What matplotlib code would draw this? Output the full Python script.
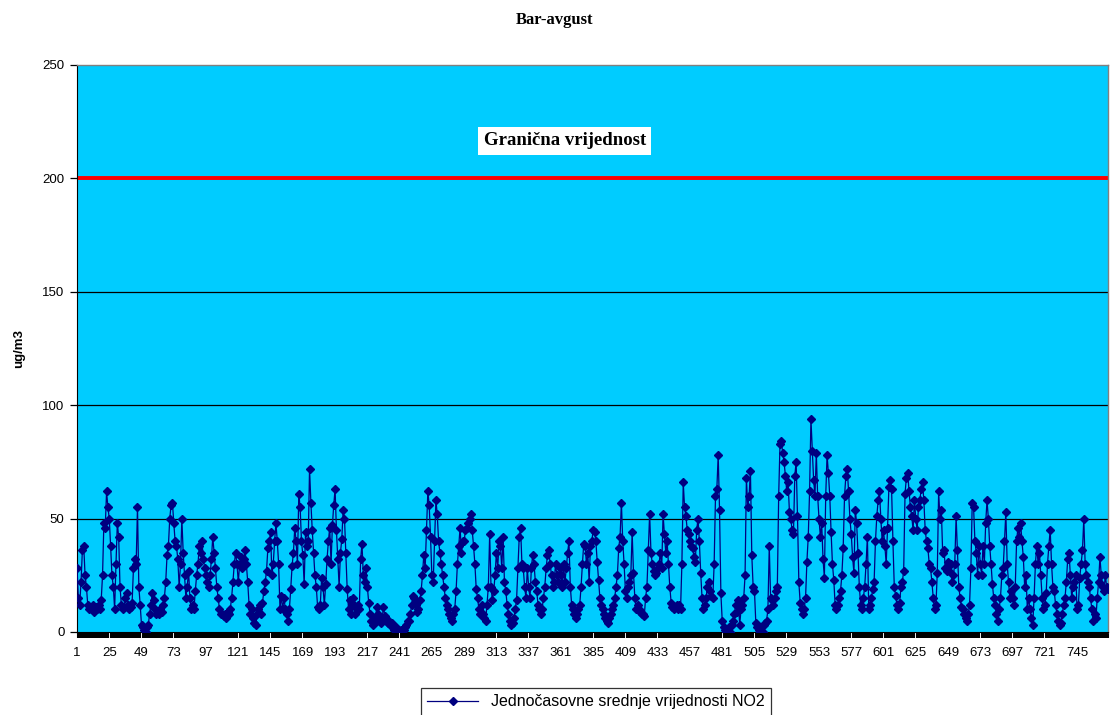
import numpy as np
import matplotlib
matplotlib.use("Agg")
import matplotlib.pyplot as plt
from matplotlib.lines import Line2D

# hourly NO2 values, one line per 24 hours
no2 = [
    28, 15, 12, 22, 36, 38, 25, 20, 12, 10, 11, 10, 12, 9, 11, 10, 12, 10, 14, 25, 48, 46, 62, 55,
    50, 38, 25, 20, 10, 30, 48, 42, 20, 12, 10, 11, 15, 17, 12, 10, 11, 13, 28, 32, 30, 55, 20, 12,
    3, 2, 1, 0, 2, 3, 8, 12, 17, 14, 10, 8, 9, 8, 10, 9, 12, 15, 22, 34, 38, 50, 56, 57,
    48, 40, 38, 32, 20, 30, 50, 35, 25, 15, 20, 27, 15, 10, 12, 10, 18, 25, 30, 38, 35, 40, 32, 28,
    25, 22, 20, 25, 32, 42, 35, 28, 20, 15, 10, 8, 8, 7, 8, 6, 9, 8, 10, 15, 22, 30, 35, 30,
    22, 30, 33, 28, 32, 36, 30, 22, 12, 8, 10, 6, 4, 3, 8, 10, 12, 8, 13, 18, 22, 27, 37, 40,
    44, 25, 30, 40, 48, 40, 30, 10, 16, 10, 15, 10, 8, 5, 10, 19, 29, 35, 46, 40, 30, 61, 55, 40,
    34, 21, 44, 38, 40, 72, 57, 45, 35, 25, 20, 11, 10, 12, 24, 20, 12, 21, 32, 40, 46, 30, 47, 56,
    63, 45, 32, 20, 35, 41, 54, 50, 35, 19, 10, 14, 8, 15, 12, 8, 10, 12, 10, 32, 39, 25, 22, 28,
    20, 13, 8, 5, 3, 4, 6, 11, 8, 5, 4, 6, 11, 7, 5, 4, 5, 3, 4, 2, 1, 2, 1, 0,
    0, 1, 0, 1, 2, 3, 5, 5, 8, 12, 16, 15, 12, 9, 10, 14, 18, 25, 34, 28, 45, 62, 56, 42,
    25, 22, 40, 58, 52, 40, 35, 30, 25, 20, 15, 12, 10, 8, 6, 5, 8, 10, 18, 30, 38, 46, 35, 40,
    40, 45, 46, 48, 50, 52, 45, 38, 30, 19, 15, 10, 8, 12, 8, 6, 5, 12, 20, 43, 20, 14, 18, 25,
    35, 28, 40, 38, 28, 42, 22, 18, 12, 8, 5, 3, 4, 6, 10, 14, 28, 42, 46, 30, 28, 20, 15, 28,
    20, 15, 28, 34, 30, 22, 18, 12, 10, 8, 10, 15, 20, 28, 34, 36, 30, 25, 20, 22, 30, 25, 22, 28,
    25, 20, 30, 22, 28, 35, 40, 20, 12, 10, 8, 6, 8, 10, 12, 20, 30, 39, 38, 30, 35, 22, 38, 40,
    45, 44, 40, 31, 23, 15, 12, 10, 8, 6, 5, 4, 6, 8, 10, 12, 15, 20, 25, 37, 42, 57, 40, 30,
    18, 15, 20, 22, 25, 44, 26, 15, 10, 12, 10, 9, 8, 8, 7, 15, 20, 36, 52, 35, 30, 27, 25, 26,
    28, 30, 35, 28, 52, 43, 35, 40, 30, 20, 13, 11, 10, 11, 12, 10, 12, 10, 30, 66, 55, 51, 45, 43,
    40, 38, 37, 33, 31, 45, 50, 40, 26, 15, 10, 12, 15, 20, 22, 18, 16, 15, 30, 60, 63, 78, 54, 17,
    5, 2, 1, 0, 1, 2, 0, 3, 5, 8, 12, 9, 14, 3, 10, 12, 15, 25, 68, 55, 60, 71, 34, 20,
    18, 4, 2, 1, 0, 2, 0, 3, 4, 5, 10, 38, 15, 14, 12, 15, 18, 20, 60, 83, 84, 79, 75, 69,
    62, 66, 53, 50, 45, 43, 69, 75, 51, 22, 13, 10, 8, 10, 15, 31, 42, 62, 94, 80, 67, 60, 79, 60,
    50, 42, 48, 32, 24, 60, 78, 70, 60, 44, 30, 23, 12, 10, 12, 15, 18, 25, 37, 60, 69, 72, 62, 50,
    43, 33, 26, 54, 48, 35, 20, 12, 10, 15, 20, 30, 42, 10, 12, 15, 19, 22, 40, 51, 58, 62, 50, 40,
    45, 38, 30, 46, 64, 67, 63, 40, 20, 16, 12, 10, 13, 20, 22, 27, 61, 68, 70, 62, 55, 51, 45, 58,
    50, 45, 55, 58, 63, 66, 58, 45, 40, 37, 30, 28, 22, 15, 10, 12, 26, 62, 50, 54, 35, 36, 28, 27,
    31, 27, 30, 22, 25, 30, 51, 36, 20, 15, 11, 10, 8, 6, 5, 8, 12, 28, 57, 55, 40, 35, 25, 38,
    30, 25, 38, 30, 48, 58, 50, 38, 30, 21, 15, 12, 8, 5, 10, 15, 25, 28, 40, 53, 30, 22, 15, 18,
    15, 12, 20, 40, 46, 42, 48, 40, 33, 20, 25, 10, 15, 10, 6, 3, 15, 30, 38, 30, 35, 25, 15, 10,
    12, 17, 30, 38, 45, 30, 20, 18, 12, 8, 5, 3, 4, 8, 12, 15, 22, 32, 35, 25, 15, 20, 22, 25,
    10, 12, 24, 30, 36, 50, 30, 25, 22, 20, 15, 10, 5, 8, 6, 15, 22, 33, 25, 20, 18, 25, 20, 19,
]
limit_value = 200
y_ticks = [0, 50, 100, 150, 200, 250]
x_labels = list(range(1, 746, 24))

sans = "Liberation Sans"
serif = "Liberation Serif"

hours = np.arange(1, len(no2) + 1)

fig = plt.figure(figsize=(11.1, 7.15), dpi=100)
ax = fig.add_axes([77 / 1110, 1 - 632 / 715, 1031 / 1110, 567 / 715])
ax.set_facecolor("#00CCFF")

for v in y_ticks[1:-1]:
    ax.axhline(v, color="black", lw=0.9, zorder=1)
ax.axhline(limit_value, color="#FF0000", lw=2.8, zorder=2)

ax.plot(hours, no2, color="#000080", lw=0.9, marker="D", ms=4.2,
        mfc="#000080", mec="#000080", zorder=3)

ax.set_xlim(1, len(no2))
ax.set_ylim(0, 250)

ax.set_yticks(y_ticks)
ax.set_yticklabels([str(v) for v in y_ticks], fontsize=9.5, family=sans)
ax.set_xticks(x_labels)
ax.set_xticklabels([str(v) for v in x_labels], fontsize=9.5, family=sans)
# every hour gets a tick, they merge into the dark strip under the plot
ax.set_xticks(hours, minor=True)
ax.tick_params(axis="x", which="major", length=0, pad=11)
ax.tick_params(axis="x", which="minor", length=4, width=1.5, color="black")
ax.tick_params(axis="y", length=5, width=0.9, pad=4)

for s in ["top", "right"]:
    ax.spines[s].set_color("#808080")
    ax.spines[s].set_linewidth(1)
ax.spines["left"].set_color("black")
ax.spines["bottom"].set_color("black")

ax.set_ylabel("ug/m3", fontsize=9.5, fontweight="bold", family=sans, labelpad=12)

ax.text(0.473, 216.5, "Granična vrijednost", transform=ax.get_yaxis_transform(),
        ha="center", va="center", fontsize=13.5, fontweight="bold", family=serif,
        bbox=dict(boxstyle="square,pad=0.3", fc="white", ec="none"), zorder=4)

fig.text(0.5, 0.972, "Bar-avgust", ha="center", va="center",
         fontsize=12, fontweight="bold", family=serif)

handle = Line2D([], [], color="#000080", lw=0.9, marker="D", ms=4.2)
leg = fig.legend([handle], ["Jednočasovne srednje vrijednosti NO2"], loc="upper center",
                 bbox_to_anchor=(0.537, 1 - 688 / 715), frameon=True, fancybox=False,
                 edgecolor="black", prop={"family": sans, "size": 11.5},
                 handlelength=3.2, borderpad=0.4, borderaxespad=0)
leg.get_frame().set_linewidth(0.9)

fig.savefig("out.png", dpi=100)
